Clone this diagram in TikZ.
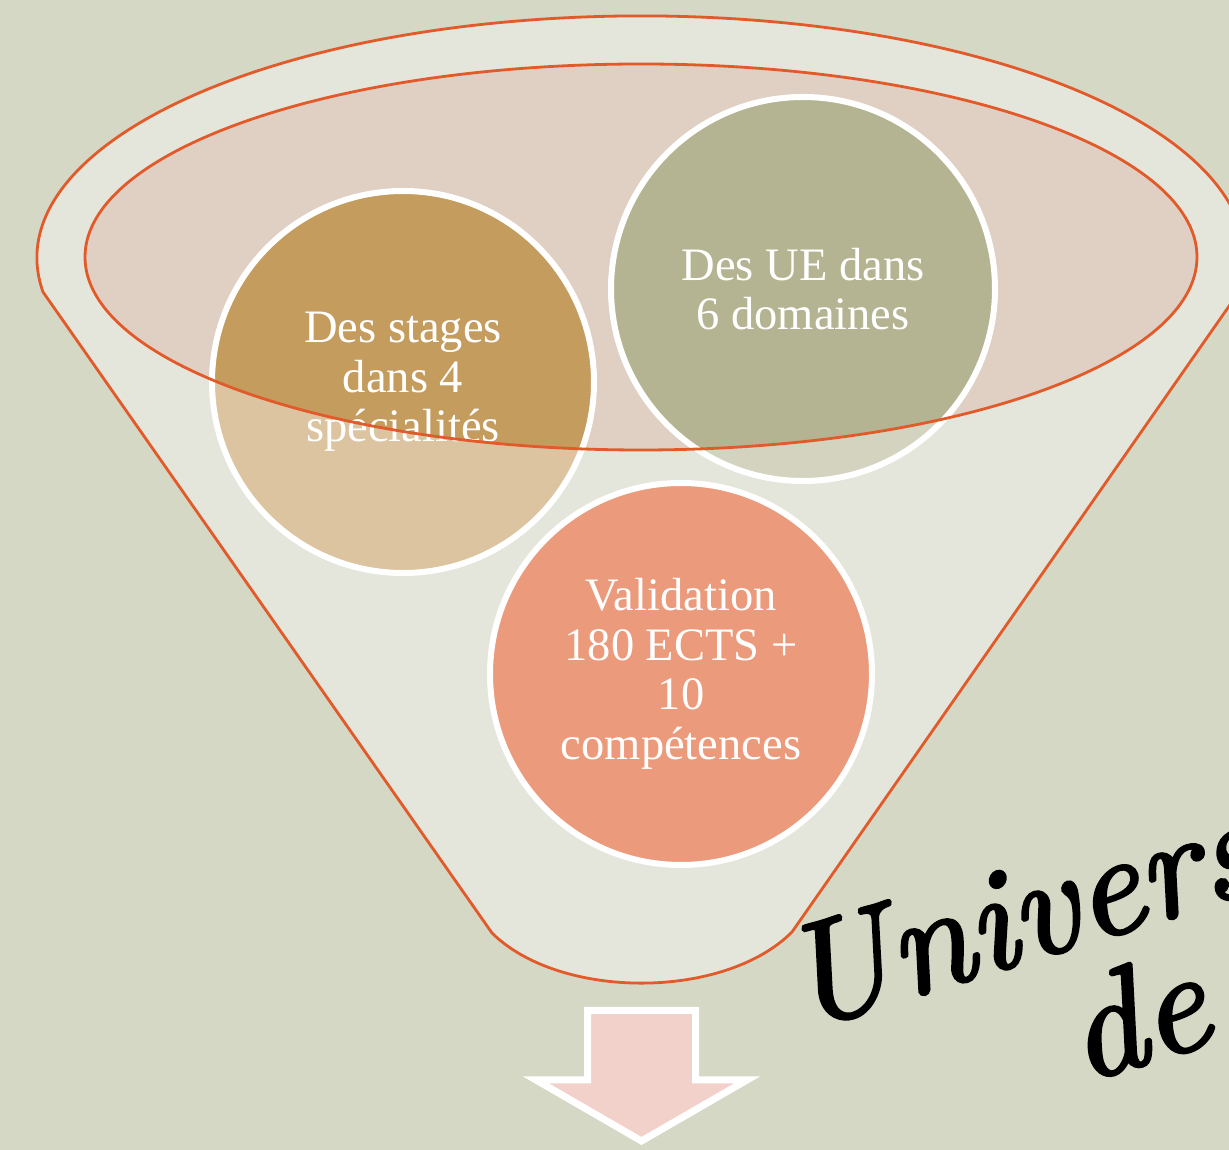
\documentclass[tikz,border=0pt]{standalone}
\usepackage{fontspec}
\newfontfamily\circfont{Liberation Serif}
\newfontface\bigfont{lmroman10-italic.otf}[FakeBold=2.2]
\definecolor{bg}{HTML}{D4D8C5}
\definecolor{funnel}{HTML}{E5E6DB}
\definecolor{innerfill}{HTML}{DFD0C3}
\definecolor{lineorange}{HTML}{E35A2A}
\definecolor{stagedark}{HTML}{C49C5E}
\definecolor{stagelight}{HTML}{DBC49F}
\definecolor{uedark}{HTML}{B4B493}
\definecolor{uelight}{HTML}{D3D3BF}
\definecolor{valcol}{HTML}{EB9A7B}
\definecolor{arrowpink}{HTML}{F3D1CB}
\begin{document}
\begin{tikzpicture}[x=1bp,y=1bp,
  orangeline/.style={draw=lineorange, line width=2.8bp},
  circborder/.style={draw=white, line width=6bp},
  circtext/.style={text=white, align=center, font=\circfont\fontsize{46.5bp}{49.5bp}\selectfont, inner sep=0pt},
  bigtext/.style={text=black, font=\bigfont\fontsize{145bp}{160bp}\selectfont, inner sep=0pt, anchor=base west, rotate=17}]
\useasboundingbox (0,0) rectangle (1229,1150);
\clip (0,0) rectangle (1229,1150);
\fill[bg] (0,0) rectangle (1229,1150);
% funnel body
\coordinate (lk) at (43,858);
\coordinate (rk) at (1239,858);
\coordinate (bl) at (492,217);
\coordinate (br) at (792,218);
\filldraw[fill=funnel, orangeline, line join=round] (lk) arc[start angle=188.1, end angle=-8.1, x radius=604, y radius=242] -- (br) .. controls (724,150) and (560,150) .. (bl) -- cycle;
% inner ellipse fill
\coordinate (ec) at (641,893);
\fill[innerfill] (ec) ellipse[x radius=556, y radius=193];
% circles
\coordinate (cs) at (403,768);
\coordinate (cu) at (803,861);
\coordinate (cv) at (681,476);
\fill[stagelight] (cs) circle[radius=191];
\fill[uelight] (cu) circle[radius=192];
\begin{scope}
  \clip (ec) ellipse[x radius=556, y radius=193];
  \fill[stagedark] (cs) circle[radius=191];
  \fill[uedark] (cu) circle[radius=192];
\end{scope}
\draw[circborder] (cs) circle[radius=191];
\draw[circborder] (cu) circle[radius=192];
\filldraw[fill=valcol, circborder] (cv) circle[radius=191];
% texts
\node[circtext] (stagestext) at (cs) {Des stages\\dans 4\\spécialités};
\node[circtext] (uetext) at (cu) {Des UE dans\\6 domaines};
\node[circtext] (valtext) at (cv) {Validation\\180 ECTS +\\10\\compétences};
% inner ellipse outline on top
\draw[orangeline] (ec) ellipse[x radius=556, y radius=193];
% arrow
\filldraw[fill=arrowpink, draw=white, line width=7bp, miter limit=10] (587.5,139.5) -- (695.5,139.5) -- (695.5,70) -- (747,70) -- (641.5,9) -- (536,70) -- (587.5,70) -- cycle;
% big text
\node[bigtext] (univ) at (800,119) {Universités};
\node[bigtext] (de) at (1082,67) {de};
\end{tikzpicture}
\end{document}
